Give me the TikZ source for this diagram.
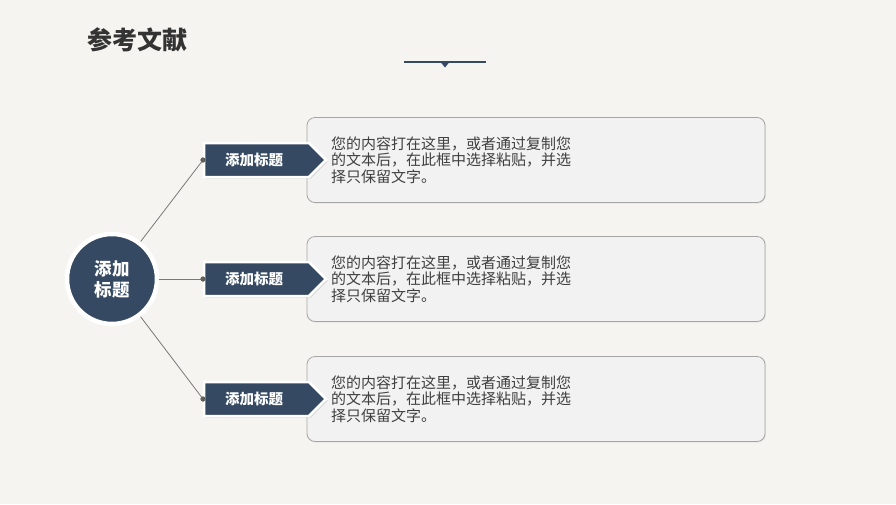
\documentclass[tikz,border=0pt]{standalone}
\usepackage{fontspec}
\newfontfamily\cjk{Noto Sans CJK SC}
\usetikzlibrary{shadows}
\definecolor{bg}{RGB}{246,244,240}
\definecolor{navy}{RGB}{53,73,99}
\definecolor{boxfill}{RGB}{242,242,242}
\definecolor{boxline}{RGB}{165,165,165}
\definecolor{bodytext}{RGB}{64,64,64}
\definecolor{titletext}{RGB}{51,51,51}
\definecolor{connline}{RGB}{120,120,120}
\tikzset{
  textbox/.style={draw=boxline, line width=0.8pt, fill=boxfill, rounded corners=8pt,
    minimum width=458pt, minimum height=85pt, inner sep=0pt,
    drop shadow={shadow xshift=1pt, shadow yshift=-1pt, opacity=0.12}},
  bodytxt/.style={font=\cjk\fontsize{15}{16.6}\selectfont, text=bodytext, align=left, anchor=west, inner sep=0pt},
  tagshape/.style={draw=white, line width=2.5pt, fill=navy,
    drop shadow={shadow xshift=1.5pt, shadow yshift=-1.5pt, opacity=0.3}},
  taglabel/.style={font=\cjk\bfseries\fontsize{14.5}{16}\selectfont, text=white, inner sep=0pt},
  hubstyle/.style={circle, draw=white, line width=4.5pt, fill=navy, minimum size=90pt,
    inner sep=0pt, align=center, text=white, font=\cjk\bfseries\fontsize{17.5}{21}\selectfont,
    drop shadow={shadow xshift=1pt, shadow yshift=-1pt, opacity=0.25}},
  conn/.style={draw=connline, line width=0.8pt},
  dotstyle/.style={circle, fill=connline!80!black, minimum size=5pt, inner sep=0pt},
}
\begin{document}
\begin{tikzpicture}[x=1pt,y=-1pt]
\fill[bg] (0,0) rectangle (896,504);
\useasboundingbox (0,0) rectangle (896,504);
% title
\node[anchor=west, inner sep=0pt, font=\cjk\bfseries\fontsize{25}{28}\selectfont, text=titletext] (title) at (87,40) {参考文献};
% deco line
\draw[navy, line width=1.2pt] (404,62) -- (486,62);
\fill[navy] (440.5,62) -- (449.5,62) -- (445,67.5) -- cycle;
% rows
\foreach \i/\y in {1/160, 2/279, 3/399}{
  \node[textbox] (box\i) at (536,\y) {};
  \node[bodytxt] (txt\i) at (331,\y) {您的内容打在这里，或者通过复制您\\的文本后，在此框中选择粘贴，并选\\择只保留文字。};
  \draw[tagshape] (204,\y-17) -- (309,\y-17) -- (326,\y) -- (309,\y+17) -- (204,\y+17) -- cycle;
  \node[taglabel] (tag\i) at (254,\y) {添加标题};
  \node[dotstyle] (dot\i) at (203,\y) {};
}
% hub
\node[hubstyle] (hub) at (112,279) {添加\\标题};
\foreach \i in {1,2,3}{
  \draw[conn] (hub) -- (dot\i.center);
}
\foreach \i/\y in {1/160, 2/279, 3/399}{
  \node[dotstyle] at (dot\i) {};
}
\end{tikzpicture}
\end{document}
